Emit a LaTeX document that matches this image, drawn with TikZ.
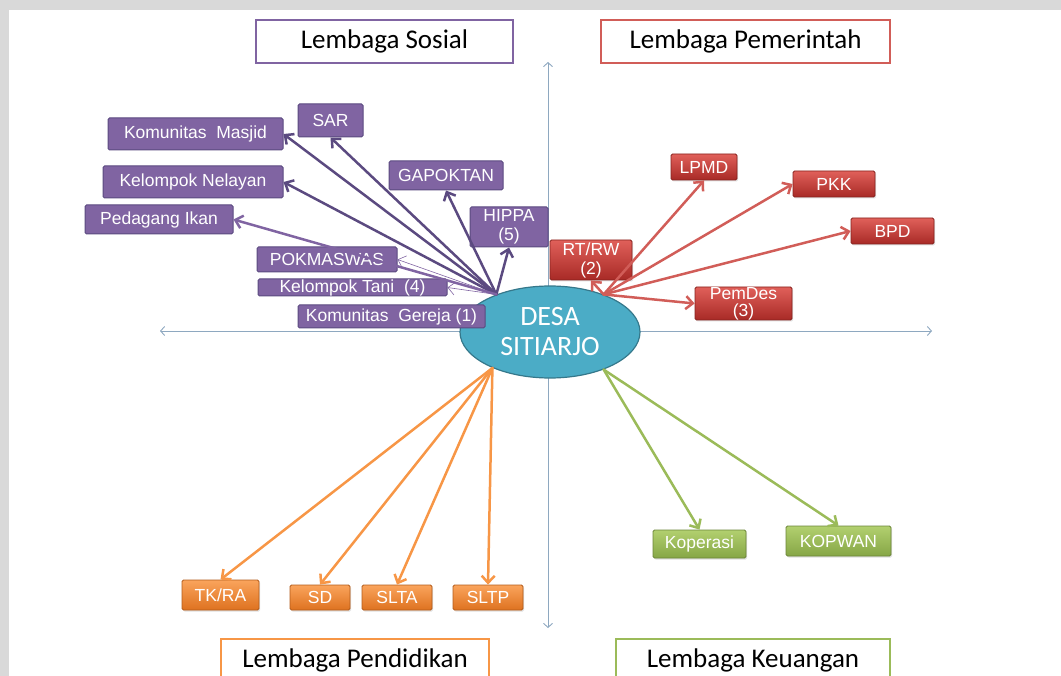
\documentclass[tikz,border=0pt]{standalone}
\usepackage{fontspec}
\setmainfont{Liberation Sans}
\newfontfamily\calibri{Carlito}
\usetikzlibrary{arrows.meta, shapes.geometric, shadows}
\definecolor{ungu}{HTML}{8064A2}
\definecolor{ungutua}{HTML}{5B4A80}
\definecolor{merah}{HTML}{C9403B}
\definecolor{merahmuda}{HTML}{E0605A}
\definecolor{merahtua}{HTML}{A82A26}
\definecolor{oranye}{HTML}{F79646}
\definecolor{oranyemuda}{HTML}{FAA45C}
\definecolor{oranyetua}{HTML}{DE7220}
\definecolor{hijau}{HTML}{9BBB59}
\definecolor{hijaumuda}{HTML}{B2D06F}
\definecolor{hijautua}{HTML}{86A646}
\definecolor{biru}{HTML}{4BACC6}
\definecolor{sumbu}{HTML}{8EA8C0}
\definecolor{abu}{HTML}{D9D9D9}

\begin{document}
\begin{tikzpicture}[x=1pt,y=-1pt,
  every node/.style={font=\fontsize{17.5}{19}\selectfont, text=white, align=center, inner sep=0pt, rounded corners=1.5pt},
  sosial/.style={fill=ungu, draw=ungutua, line width=1pt},
  pemerintah/.style={top color=merahmuda, bottom color=merahtua, draw=merahtua!80!black, line width=0.8pt, drop shadow={opacity=0.25, shadow xshift=1pt, shadow yshift=-1.5pt}},
  pendidikan/.style={top color=oranyemuda, bottom color=oranyetua, draw=oranyetua!80!black, line width=0.8pt, drop shadow={opacity=0.25, shadow xshift=1pt, shadow yshift=-1.5pt}},
  keuangan/.style={top color=hijaumuda, bottom color=hijautua, draw=hijautua!80!black, line width=0.8pt, drop shadow={opacity=0.25, shadow xshift=1pt, shadow yshift=-1.5pt}},
  judul/.style={draw, line width=2.5pt, fill=white, text=black, rounded corners=0pt, minimum height=43pt, font=\calibri\fontsize{27}{30}\selectfont},
  panah/.style={-{Straight Barb[length=7pt,width=13pt]}, line width=2.5pt, line join=round, line cap=round},
  sumbu/.style={{Straight Barb[length=4pt,width=9pt]}-{Straight Barb[length=4pt,width=9pt]}, line width=0.9pt, draw=sumbu}]

  % latar
  \useasboundingbox (0,0) rectangle (1061,676);
  \clip (0,0) rectangle (1061,676);
  \fill[abu] (0,0) rectangle (1061,10);
  \fill[abu] (0,0) rectangle (9,676);

  % sumbu
  \coordinate (atas) at (548,62);
  \coordinate (bawah) at (548,628);
  \coordinate (kiri) at (160,331);
  \coordinate (kanan) at (932,331);
  \draw[sumbu] (atas) -- (bawah);
  \draw[sumbu] (kiri) -- (kanan);

  % judul
  \node[judul, draw=ungu, minimum width=257pt] (jsosial) at (384.5,41.5) {Lembaga Sosial};
  \node[judul, draw=merah!85!white, minimum width=289pt] (jpemerintah) at (745.5,41.5) {Lembaga Pemerintah};
  \node[judul, draw=oranye, minimum width=268pt] (jpendidikan) at (355,660.5) {Lembaga Pendidikan};
  \node[judul, draw=hijau, minimum width=274pt] (jkeuangan) at (753,660.5) {Lembaga Keuangan};

  % desa
  \node[ellipse, fill=biru, draw=biru!70!black, line width=1.2pt, minimum width=180pt, minimum height=92pt, font=\calibri\fontsize{28}{30}\selectfont] (desa) at (550,332) {DESA\\SITIARJO};

  % lembaga sosial
  \node[sosial, minimum width=175pt, minimum height=32pt] (masjid) at (195.5,134) {Komunitas\ \ Masjid};
  \node[sosial, minimum width=65pt, minimum height=33pt] (sar) at (330.5,120.5) {SAR};
  \node[sosial, minimum width=180pt, minimum height=32pt] (nelayan) at (193,182) {Kelompok Nelayan};
  \node[sosial, minimum width=114pt, minimum height=29pt] (gapoktan) at (446,175.5) {GAPOKTAN};
  \node[sosial, minimum width=148pt, minimum height=29pt] (pedagang) at (159,219.5) {Pedagang Ikan};
  \node[sosial, minimum width=78pt, minimum height=40pt] (hippa) at (509,227) {HIPPA\\(5)};
  \node[sosial, minimum width=140pt, minimum height=25pt] (pokmaswas) at (327,259.5) {POKMASWAS};
  \node[sosial, minimum width=189pt, minimum height=17pt] (tani) at (352.5,287.5) {Kelompok Tani \ (4)};
  \node[sosial, minimum width=187pt, minimum height=23pt] (gereja) at (391.5,316.5) {Komunitas\ \ Gereja (1)};

  % lembaga pemerintah
  \node[pemerintah, minimum width=82pt, minimum height=40pt] (rtrw) at (591,260) {RT/RW\\(2)};
  \node[pemerintah, minimum width=66pt, minimum height=26pt] (lpmd) at (704,167) {LPMD};
  \node[pemerintah, minimum width=82pt, minimum height=26pt] (pkk) at (834,184) {PKK};
  \node[pemerintah, minimum width=83pt, minimum height=26pt] (bpd) at (892.5,231) {BPD};
  \node[pemerintah, minimum width=97pt, minimum height=33pt, font=\fontsize{17.5}{17}\selectfont] (pemdes) at (743.5,303.5) {PemDes\\(3)};

  % lembaga pendidikan
  \node[pendidikan, minimum width=77pt, minimum height=30pt] (tkra) at (220.5,595) {TK/RA};
  \node[pendidikan, minimum width=60pt, minimum height=25pt] (sd) at (320,597.5) {SD};
  \node[pendidikan, minimum width=70pt, minimum height=25pt] (slta) at (397,597.5) {SLTA};
  \node[pendidikan, minimum width=70pt, minimum height=25pt] (sltp) at (488,597.5) {SLTP};

  % lembaga keuangan
  \node[keuangan, minimum width=93pt, minimum height=28pt] (koperasi) at (699.5,544) {Koperasi};
  \node[keuangan, minimum width=105pt, minimum height=30pt] (kopwan) at (838.5,541) {KOPWAN};

  % panah
  \foreach \t in {masjid.east, sar.south, nelayan.east, gapoktan.south, hippa.south}
    \draw[panah, ungutua] (desa.145) -- (\t);
  \draw[panah, ungu] (desa.145) -- (pedagang.east);
  \draw[panah, ungu, line width=0.6pt] (desa.145) -- (pokmaswas.east);
  \draw[panah, ungu, line width=0.6pt] (desa.145) -- (tani.east);
  \foreach \t in {rtrw.south, lpmd.south, pkk.west, bpd.west, pemdes.west}
    \draw[panah, merah!85!white] (desa.35) -- (\t);
  \foreach \t in {tkra.north, sd.north, slta.north, sltp.north}
    \draw[panah, oranye] (desa.212) -- (\t);
  \foreach \t in {koperasi.north, kopwan.north}
    \draw[panah, hijau] (desa.325) -- (\t);
\end{tikzpicture}
\end{document}
